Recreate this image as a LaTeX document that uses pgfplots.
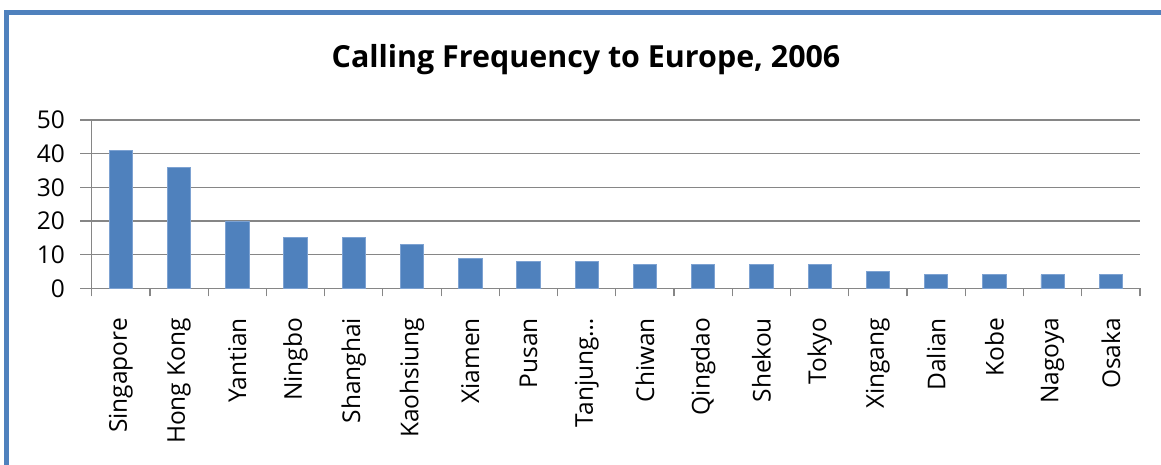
\documentclass[border=0pt]{standalone}
\usepackage{fontspec}
\setmainfont{Open Sans}
\usepackage{pgfplots}
\pgfplotsset{compat=1.18}
\definecolor{barblue}{RGB}{79,129,189}
\definecolor{baredge}{RGB}{125,162,210}
\definecolor{frameblue}{RGB}{79,129,189}
\definecolor{gridgray}{RGB}{134,134,134}
\begin{document}
\begin{tikzpicture}[x=1pt,y=1pt]
\useasboundingbox (0,0) rectangle (1161,464);
\fill[white] (0,0) rectangle (1161,464);
\draw[frameblue, line width=4.5pt] (6.5,-20) -- (6.5,451.5) -- (1180,451.5);
\node[font=\fontsize{30.4}{36}\selectfont\bfseries] at (586,404) {Calling Frequency to Europe, 2006};
\begin{axis}[
  at={(91.7pt,175.7pt)}, anchor=south west,
  scale only axis, width=1048.3pt, height=168.3pt,
  xmin=-0.5, xmax=17.5, ymin=0, ymax=50,
  axis x line=bottom, axis y line=left,
  axis line style={-, draw=gridgray, line width=1.2pt},
  ytick={0,10,...,50},
  ymajorgrids, major grid style={draw=gridgray, line width=1.2pt},
  xtick={0,...,17},
  xticklabels={Singapore,Hong Kong,Yantian,Ningbo,Shanghai,Kaohsiung,Xiamen,Pusan,Tanjung…,Chiwan,Qingdao,Shekou,Tokyo,Xingang,Dalian,Kobe,Nagoya,Osaka},
  minor xtick={-0.5,0.5,...,17.5},
  tick align=outside,
  major tick length=11.5pt, minor tick length=8pt,
  tick style={draw=gridgray, line width=1.2pt},
  major x tick style={draw=none},
  /pgf/number format/assume math mode=true,
  ticklabel style={font=\fontsize{24.5}{29}\selectfont, text=black},
  xticklabel style={rotate=90, anchor=east, inner sep=0pt},
  yticklabel style={anchor=east, inner sep=0pt},
  xticklabel shift=18pt,
  yticklabel shift=15pt,
  clip=false,
]
\addplot[ybar, bar width=23.3pt, fill=barblue, draw=baredge, line width=0.8pt]
coordinates {(0,41)(1,36)(2,20)(3,15)(4,15)(5,13)(6,9)(7,8)(8,8)(9,7)(10,7)(11,7)(12,7)(13,5)(14,4)(15,4)(16,4)(17,4)};
\end{axis}
\end{tikzpicture}
\end{document}
